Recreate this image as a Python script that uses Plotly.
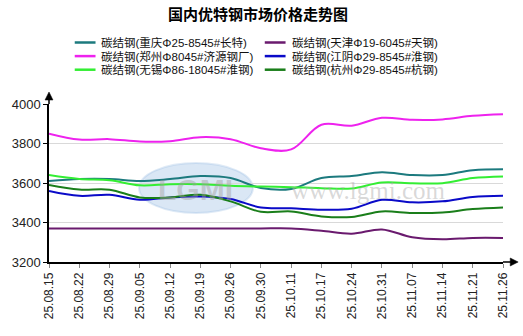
import plotly.graph_objects as go

dates = ["25.08.15", "25.08.22", "25.08.29", "25.09.05", "25.09.12", "25.09.19", "25.09.26", "25.09.30",
         "25.10.11", "25.10.17", "25.10.24", "25.10.31", "25.11.07", "25.11.14", "25.11.21", "25.11.26"]

names = ["碳结钢(重庆Φ25-8545#长特)", "碳结钢(天津Φ19-6045#天钢)",
         "碳结钢(郑州Φ8045#济源钢厂)", "碳结钢(江阴Φ29-8545#淮钢)",
         "碳结钢(无锡Φ86-18045#淮钢)", "碳结钢(杭州Φ29-8545#杭钢)"]

chongqing = [3610, 3620, 3620, 3610, 3620, 3635, 3625, 3575, 3570, 3625, 3635, 3655, 3640, 3640, 3665, 3670]
tianjin   = [3370, 3370, 3370, 3370, 3370, 3370, 3370, 3370, 3370, 3358, 3343, 3365, 3325, 3315, 3322, 3322]
zhengzhou = [3850, 3820, 3822, 3810, 3812, 3832, 3822, 3776, 3770, 3895, 3890, 3930, 3920, 3922, 3940, 3948]
jiangyin  = [3560, 3535, 3540, 3515, 3527, 3532, 3519, 3476, 3472, 3465, 3470, 3515, 3502, 3507, 3529, 3535]
wuxi      = [3640, 3620, 3614, 3588, 3594, 3594, 3586, 3582, 3579, 3574, 3572, 3603, 3599, 3599, 3625, 3633]
hangzhou  = [3590, 3567, 3566, 3527, 3527, 3540, 3507, 3454, 3456, 3431, 3428, 3456, 3448, 3451, 3468, 3476]

series = [chongqing, tianjin, zhengzhou, jiangyin, wuxi, hangzhou]
colors = ["#1c7a7e", "#6a1a6e", "#ee22ee", "#0a0ac8", "#33ee33", "#1a7e1a"]

y_ticks = [3200, 3400, 3600, 3800, 4000]

fig = go.Figure()
for nm, vals, col in zip(names, series, colors):
    fig.add_trace(go.Scatter(x=dates, y=vals, name=nm, mode="lines",
                             line=dict(color=col, width=2, shape="spline", smoothing=1.0),
                             showlegend=False, hoverinfo="x+y+name"))

shapes = []
annotations = []

W, H, L, B = 458.7, 158.0, 44, 74
def px(xp):
    return (xp - L) / W
def py(yp):
    return (336 - B - yp) / H

# title
annotations.append(dict(text="<b>国内优特钢市场价格走势图</b>", xref="paper", yref="paper",
                        x=px(255), y=py(13), xanchor="center", yanchor="middle",
                        showarrow=False, font=dict(size=15, color="#000", family="Noto Sans CJK SC")))

# manual legend (two columns, three rows)
fs = 11.5
row_gap = 13.6
row_top = 42.5
cols_x = [70, 262]
for i, (nm, col) in enumerate(zip(names, colors)):
    r, c = i // 2, i % 2
    yy = row_top + r * row_gap
    x0 = cols_x[c]
    shapes.append(dict(type="line", xref="paper", yref="paper", x0=px(x0), x1=px(x0 + 21),
                       y0=py(yy), y1=py(yy), line=dict(color=col, width=2.5)))
    annotations.append(dict(text=nm, xref="paper", yref="paper", x=px(x0 + 25), y=py(yy),
                            xanchor="left", yanchor="middle", showarrow=False,
                            font=dict(size=fs, color="#111",
                                      family="Liberation Sans, Arial, Noto Sans CJK SC")))

# watermark
shapes.append(dict(type="circle", xref="paper", yref="paper", layer="below",
                   x0=px(135), x1=px(250), y0=py(213), y1=py(163),
                   fillcolor="rgba(150,185,225,0.35)", line=dict(color="rgba(150,185,225,0.3)", width=2)))
annotations.append(dict(text="<b>LGMI</b>", xref="paper", yref="paper", x=px(192), y=py(189),
                        xanchor="center", yanchor="middle",
                        showarrow=False, font=dict(size=30, color="rgba(160,160,160,0.45)", family="Arial")))
annotations.append(dict(text="www.lgmi.com", xref="paper", yref="paper", x=px(366), y=py(190),
                        xanchor="center", yanchor="middle",
                        showarrow=False, font=dict(size=25, color="rgba(170,170,170,0.45)", family="Liberation Serif")))

# axis arrows
shapes.append(dict(type="line", xref="paper", yref="paper", x0=0, x1=0, y0=1, y1=py(97),
                   line=dict(color="#000", width=1.5)))
shapes.append(dict(type="path", xref="paper", yref="paper",
                   path=f"M {px(40)} {py(100)} L {px(48)} {py(100)} L {px(44)} {py(92)} Z",
                   fillcolor="#000", line=dict(color="#000", width=0.5)))
shapes.append(dict(type="line", xref="paper", yref="paper", x0=1, x1=px(512), y0=0, y1=0,
                   line=dict(color="#000", width=1.5)))
shapes.append(dict(type="path", xref="paper", yref="paper",
                   path=f"M {px(510)} {py(258)} L {px(510)} {py(266)} L {px(518)} {py(262)} Z",
                   fillcolor="#000", line=dict(color="#000", width=0.5)))

fig.update_layout(
    width=523, height=336,
    margin=dict(l=L, r=523 - L - W, t=104, b=B),
    paper_bgcolor="#fff", plot_bgcolor="#fff",
    showlegend=False,
    shapes=shapes, annotations=annotations,
    font=dict(family="Arial, Liberation Sans", color="#222"),
    xaxis=dict(type="category", range=[0, len(dates) - 1], showgrid=False,
               showline=True, linecolor="#000", linewidth=1.5,
               ticks="outside", ticklen=4, tickcolor="#888", tickangle=-90,
               tickfont=dict(size=12, color="#222", family="Arial, Liberation Sans"),
               zeroline=False, fixedrange=True),
    yaxis=dict(range=[y_ticks[0], y_ticks[-1]], tickvals=y_ticks, showgrid=True,
               gridcolor="#d9d9d9", gridwidth=1,
               showline=True, linecolor="#000", linewidth=1.5,
               ticks="outside", ticklen=4, tickcolor="#000",
               tickfont=dict(size=13, color="#222", family="Arial, Liberation Sans"),
               zeroline=False, fixedrange=True),
)

fig.write_html("out.html")
